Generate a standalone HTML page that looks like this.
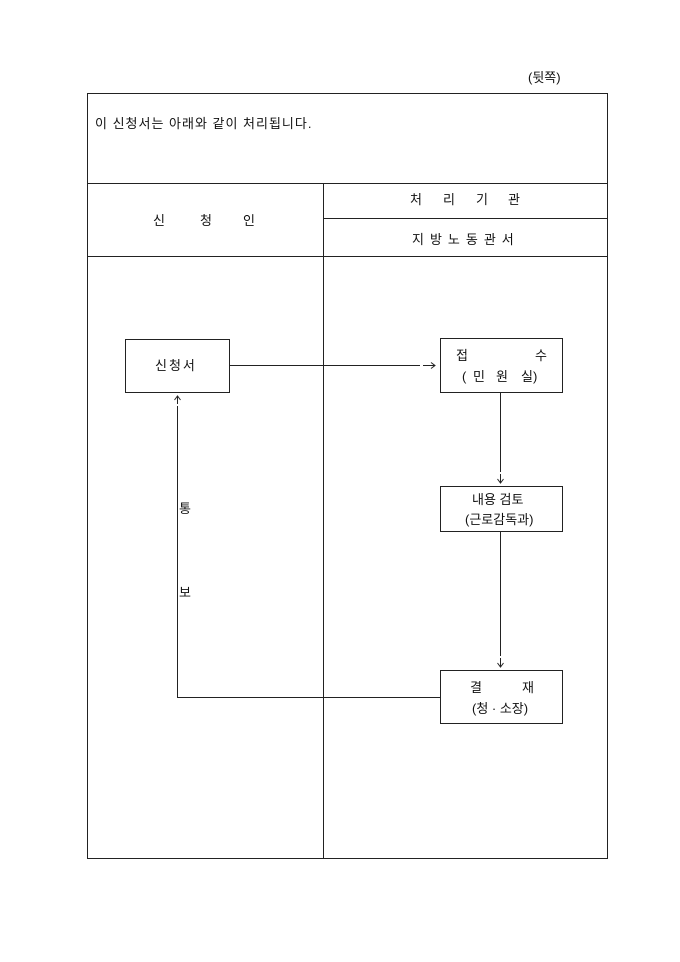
<!DOCTYPE html>
<html><head><meta charset="utf-8"><style>
html,body{margin:0;padding:0;background:#fff;}
svg{display:block;}
text{font-family:"Liberation Sans","Noto Sans CJK KR","NanumGothic",sans-serif;font-size:13px;fill:#111;}
</style></head><body>
<svg width="680" height="962" viewBox="0 0 680 962" xmlns="http://www.w3.org/2000/svg">
<g stroke="#222" stroke-width="1" fill="none">
<rect x="87.5" y="93.5" width="520" height="765"/>
<line x1="87" y1="183.5" x2="608" y2="183.5"/>
<line x1="87" y1="256.5" x2="608" y2="256.5"/>
<line x1="323.5" y1="183" x2="323.5" y2="858"/>
<line x1="323" y1="218.5" x2="608" y2="218.5"/>
<rect x="125.5" y="339.5" width="104" height="53"/>
<rect x="440.5" y="338.5" width="122" height="54"/>
<rect x="440.5" y="486.5" width="122" height="45"/>
<rect x="440.5" y="670.5" width="122" height="53"/>
<line x1="229" y1="365.5" x2="420" y2="365.5"/>
<line x1="423" y1="365.5" x2="435" y2="365.5"/>
<polyline points="431,362.5 435,365.5 431,368.5"/>
<line x1="500.5" y1="392" x2="500.5" y2="472"/>
<line x1="500.5" y1="474" x2="500.5" y2="483"/>
<polyline points="497.5,479 500.5,483 503.5,479"/>
<line x1="500.5" y1="531" x2="500.5" y2="656"/>
<line x1="500.5" y1="658" x2="500.5" y2="667"/>
<polyline points="497.5,663 500.5,667 503.5,663"/>
<polyline points="440,697.5 177.5,697.5 177.5,406"/>
<line x1="177.5" y1="396" x2="177.5" y2="404"/>
<polyline points="174.5,400 177.5,396 180.5,400"/>
</g>
<text x="528" y="82">(뒷쪽)</text>
<text x="95" y="128" letter-spacing="1">이 신청서는 아래와 같이 처리됩니다.</text>
<text x="153" y="225">신</text><text x="200" y="225">청</text><text x="243" y="225">인</text>
<text x="410" y="204">처</text><text x="443" y="204">리</text><text x="476" y="204">기</text><text x="508" y="204">관</text>
<text x="412" y="244" letter-spacing="6">지방노동관서</text>
<text x="155" y="370" letter-spacing="2">신청서</text>
<text x="456" y="360">접</text><text x="535" y="360">수</text>
<text x="462" y="381">(</text><text x="473" y="381">민</text><text x="496" y="381">원</text><text x="521" y="381">실)</text>
<text x="472" y="504">내용 검토</text>
<text x="465" y="524">(근로감독과)</text>
<text x="470" y="692">결</text><text x="522" y="692">재</text>
<text x="472" y="713">(청 · 소장)</text>
<text x="179" y="513">통</text>
<text x="179" y="597">보</text>
</svg>
</body></html>
